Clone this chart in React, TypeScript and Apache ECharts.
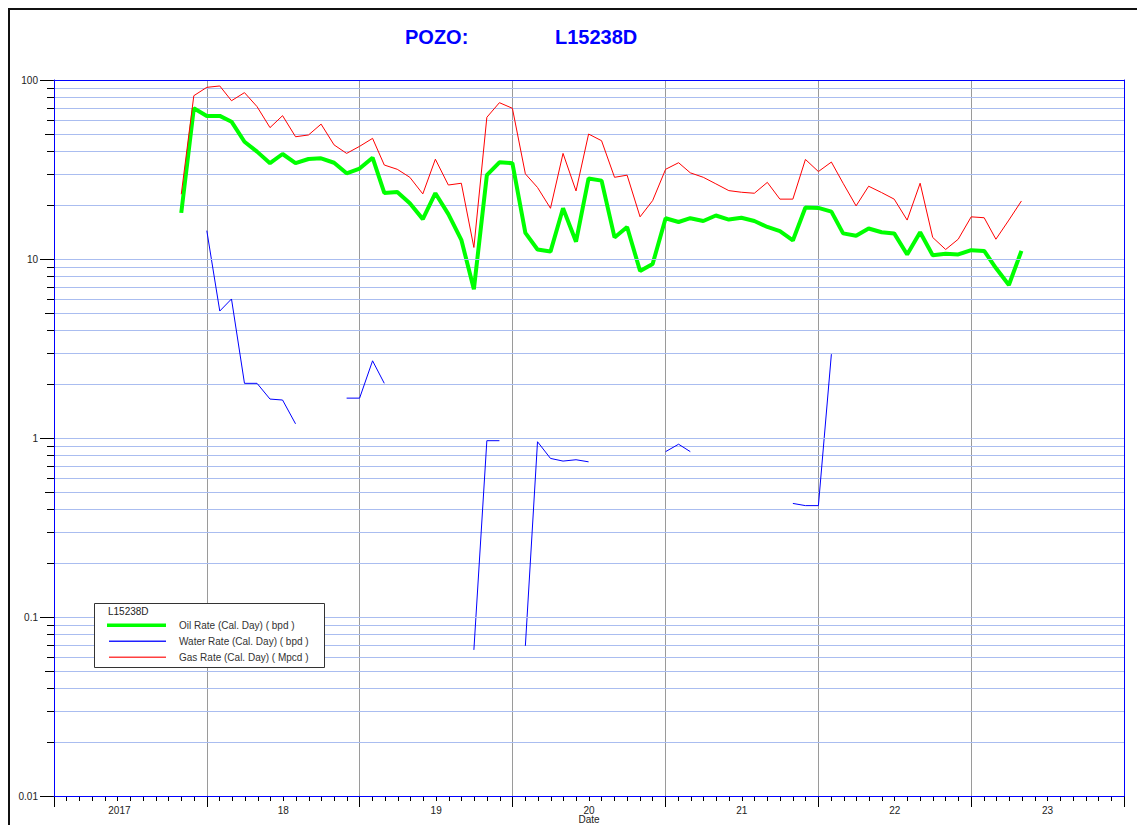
import React, { useEffect, useRef } from "react";
import * as echarts from "echarts";

// Well identifier and production history (monthly, first month 2017-11)
const WELL = "L15238D";
const FIRST_YEAR = 2017;
const FIRST_MONTH = 11;

// Oil Rate (Cal. Day) (bpd)
const OIL_RATE = [
  18.1, 69.5, 63, 63, 58.5, 45.2, 39.8, 34.3, 38.6, 34.3, 36.2, 36.5, 34.5, 30.1, 32, 36.8,
  23.4, 23.7, 20.5, 16.7, 23.3, 17.8, 12.8, 6.78, 29.4, 34.7, 34.3, 14.0, 11.3, 11.0, 19.2,
  12.5, 28.2, 27.4, 13.2, 15.1, 8.57, 9.38, 16.9, 16.1, 16.9, 16.3, 17.5, 16.6, 17.0, 16.3,
  15.1, 14.3, 12.7, 19.4, 19.3, 18.4, 13.9, 13.5, 14.8, 14.1, 13.9, 10.6, 14.1, 10.5, 10.7,
  10.6, 11.2, 11.1, 8.9, 7.16, 11.1,
];

// Water Rate (Cal. Day) (bpd) — null where no water was reported
const WATER_RATE = [
  null, null, 14.4, 5.12, 5.98, 2.02, 2.02, 1.65, 1.63, 1.2, null, null, null, 1.67, 1.67, 2.7,
  2.02, null, null, null, null, null, null, 0.0655, 0.966, 0.966, null, 0.069, 0.953, 0.769,
  0.743, 0.756, 0.736, null, null, null, null, null, 0.839, 0.923, 0.839, null, null, null,
  null, null, null, null, 0.431, 0.419, 0.419, 2.94, null, null, null, null, null, null, null,
  null, null, null, null, null, null, null, null,
];

// Gas Rate (Cal. Day) (Mpcd)
const GAS_RATE = [
  23, 81.7, 91, 92.6, 76.6, 85, 71, 54.2, 63.2, 48.2, 49.3, 56.7, 43.4, 38.9, 42.6, 47.2, 33.5,
  31.7, 28.6, 23.1, 36.1, 25.9, 26.5, 11.6, 61.9, 74.7, 69.5, 29.9, 25.1, 19.2, 38.9, 24.0,
  49.9, 45.8, 28.6, 29.4, 17.2, 21.2, 31.7, 34.5, 30.3, 28.6, 26.3, 24.1, 23.6, 23.3, 26.8,
  21.6, 21.6, 36, 30.8, 34.8, 26.5, 19.8, 25.5, 23.5, 21.6, 16.5, 26.5, 13.2, 11.3, 12.9, 17.2,
  17.0, 12.9, 16.5, 21.1,
];

// Axis labels
const YEAR_LABELS = ["2017", "18", "19", "20", "21", "22", "23"];
const X_MIN = "2017-01-01";
const X_MAX = "2024-01-01";
const Y_MIN = 0.01;
const Y_MAX = 100;
const DECADES = [0.01, 0.1, 1, 10];
const MINOR_DIGITS = [2, 3, 4, 5, 6, 7, 8, 9];

const FONT = 'Arial, "Liberation Sans", sans-serif';
const GRID_BLUE = "#aabdf0";
const AXIS_BLUE = "#0000ff";

function monthDate(i: number): string {
  const total = FIRST_MONTH - 1 + i;
  const y = FIRST_YEAR + Math.floor(total / 12);
  const m = (total % 12) + 1;
  return `${y}-${String(m).padStart(2, "0")}-01`;
}

const DATES = OIL_RATE.map((_, i) => monthDate(i));
const MONTH_SLOTS = Array.from({ length: YEAR_LABELS.length * 12 }, (_, i) => String(i));

// Intermediate log gridlines (2..9 within each decade) with their tick length
const MINOR_LINES: [string, number, number][] = [];
DECADES.forEach((d) =>
  MINOR_DIGITS.forEach((k) => MINOR_LINES.push([X_MIN, k * d, k === 5 ? 9 : 7]))
);

export default function App() {
  const ref = useRef<HTMLDivElement | null>(null);

  useEffect(() => {
    if (!ref.current) return;
    const chart = echarts.init(ref.current, null, { renderer: "svg" });

    const renderMinor = (params: any, api: any) => {
      const cs = params.coordSys;
      const y = Math.round(api.coord([X_MIN, api.value(1)])[1]) + 0.5;
      const len = api.value(2);
      return {
        type: "group",
        children: [
          {
            type: "line",
            shape: { x1: cs.x, y1: y, x2: cs.x + cs.width, y2: y },
            style: { stroke: GRID_BLUE, lineWidth: 1 },
          },
          {
            type: "line",
            shape: { x1: cs.x - len, y1: y, x2: cs.x, y2: y },
            style: { stroke: "#000", lineWidth: 1 },
          },
        ],
      };
    };

    const labelStyle = { color: "#222", fontSize: 10, fontFamily: FONT };
    const legendText = { fontSize: 10, fontFamily: FONT, fill: "#333", verticalAlign: "middle" };
    const LZ = 100;

    const option: any = {
      animation: false,
      textStyle: { fontFamily: FONT },
      title: [
        {
          text: "POZO:",
          left: 397,
          top: 19,
          padding: 0,
          textStyle: { color: AXIS_BLUE, fontSize: 20, fontWeight: "bold", fontFamily: FONT },
        },
        {
          text: WELL,
          left: 547,
          top: 19,
          padding: 0,
          textStyle: { color: AXIS_BLUE, fontSize: 20, fontWeight: "bold", fontFamily: FONT },
        },
      ],
      grid: { left: 46, top: 72, width: 1070, height: 716, outerBoundsMode: "none", containLabel: false },
      xAxis: [
        {
          type: "time",
          position: "bottom",
          min: X_MIN,
          max: X_MAX,
          z: 10,
          axisLine: { show: true, lineStyle: { color: AXIS_BLUE, width: 1 } },
          axisTick: { show: false },
          axisLabel: { show: false },
          splitLine: { show: false },
        },
        {
          type: "category",
          position: "bottom",
          data: YEAR_LABELS,
          boundaryGap: true,
          axisLine: { show: false },
          axisTick: { show: true, interval: 0, length: 11, lineStyle: { color: "#000" } },
          axisLabel: {
            ...labelStyle,
            interval: 0,
            margin: 9,
            formatter: (v: string, i: number) => (i === 0 ? `{f|${v}}` : v),
            rich: { f: { ...labelStyle, padding: [0, 22, 0, 0] } },
          },
          splitLine: {
            show: true,
            interval: 0,
            showMinLine: false,
            showMaxLine: false,
            lineStyle: { color: "#9a9a9a", width: 1 },
          },
          name: "Date",
          nameLocation: "middle",
          nameGap: 18,
          nameMoveOverlap: false,
          nameTextStyle: labelStyle,
        },
        {
          type: "category",
          position: "bottom",
          data: MONTH_SLOTS,
          boundaryGap: true,
          axisLine: { show: false },
          axisTick: { show: true, interval: 0, length: 5, lineStyle: { color: "#000" } },
          axisLabel: { show: false },
          splitLine: { show: false },
        },
        {
          type: "time",
          position: "top",
          min: X_MIN,
          max: X_MAX,
          z: 10,
          axisLine: { show: true, lineStyle: { color: AXIS_BLUE, width: 1 } },
          axisTick: { show: false },
          axisLabel: { show: false },
          splitLine: { show: false },
        },
      ],
      yAxis: [
        {
          type: "log",
          logBase: 10,
          position: "left",
          min: Y_MIN,
          max: Y_MAX,
          z: 5,
          axisLine: { show: true, lineStyle: { color: AXIS_BLUE, width: 1 } },
          axisTick: { show: true, length: 14, lineStyle: { color: "#000" } },
          axisLabel: { ...labelStyle, margin: 16 },
          splitLine: {
            show: true,
            showMinLine: false,
            showMaxLine: false,
            lineStyle: { color: GRID_BLUE, width: 1 },
          },
          minorTick: { show: false },
        },
        {
          type: "log",
          logBase: 10,
          position: "right",
          min: Y_MIN,
          max: Y_MAX,
          z: 10,
          axisLine: { show: true, lineStyle: { color: AXIS_BLUE, width: 1 } },
          axisTick: { show: false },
          axisLabel: { show: false },
          splitLine: { show: false },
        },
      ],
      series: [
        {
          type: "custom",
          name: "minor-grid",
          xAxisIndex: 0,
          yAxisIndex: 0,
          data: MINOR_LINES,
          renderItem: renderMinor,
          silent: true,
          clip: false,
          z: 1,
        },
        {
          type: "line",
          name: "Oil Rate (Cal. Day) ( bpd )",
          xAxisIndex: 0,
          yAxisIndex: 0,
          data: OIL_RATE.map((v, i) => [DATES[i], v]),
          symbol: "none",
          lineStyle: { color: "#00ff00", width: 4 },
          z: 3,
        },
        {
          type: "line",
          name: "Water Rate (Cal. Day) ( bpd )",
          xAxisIndex: 0,
          yAxisIndex: 0,
          data: WATER_RATE.map((v, i) => [DATES[i], v]),
          connectNulls: false,
          symbol: "none",
          lineStyle: { color: "#0000ff", width: 1 },
          z: 4,
        },
        {
          type: "line",
          name: "Gas Rate (Cal. Day) ( Mpcd )",
          xAxisIndex: 0,
          yAxisIndex: 0,
          data: GAS_RATE.map((v, i) => [DATES[i], v]),
          symbol: "none",
          lineStyle: { color: "#ff0000", width: 1 },
          z: 4,
        },
      ],
      graphic: [
        {
          type: "line",
          z: LZ,
          shape: { x1: 0, y1: 1, x2: 1129, y2: 1 },
          style: { stroke: "#111", lineWidth: 2 },
        },
        {
          type: "line",
          z: LZ,
          shape: { x1: 1, y1: 0, x2: 1, y2: 817 },
          style: { stroke: "#111", lineWidth: 2 },
        },
        {
          type: "group",
          x: 86,
          y: 595,
          z: LZ,
          children: [
            {
              type: "rect",
              z: LZ,
              shape: { x: 0.5, y: 0.5, width: 230, height: 64 },
              style: { fill: "#fff", stroke: "#333", lineWidth: 1 },
            },
            {
              type: "text",
              z: LZ + 1,
              x: 14,
              y: 8,
              style: { ...legendText, text: WELL, fill: "#222" },
            },
            {
              type: "rect",
              z: LZ + 1,
              shape: { x: 13, y: 20.5, width: 59, height: 3.5 },
              style: { fill: "#00ff00" },
            },
            {
              type: "text",
              z: LZ + 1,
              x: 85,
              y: 22,
              style: { ...legendText, text: "Oil Rate (Cal. Day) ( bpd )" },
            },
            {
              type: "rect",
              z: LZ + 1,
              shape: { x: 15, y: 37.5, width: 57, height: 1.5 },
              style: { fill: "#2020ff" },
            },
            {
              type: "text",
              z: LZ + 1,
              x: 85,
              y: 38,
              style: { ...legendText, text: "Water Rate (Cal. Day) ( bpd )" },
            },
            {
              type: "rect",
              z: LZ + 1,
              shape: { x: 15, y: 53.5, width: 57, height: 1.5 },
              style: { fill: "#ff4040" },
            },
            {
              type: "text",
              z: LZ + 1,
              x: 85,
              y: 54,
              style: { ...legendText, text: "Gas Rate (Cal. Day) ( Mpcd )" },
            },
          ],
        },
      ],
    };

    chart.setOption(option);
    return () => chart.dispose();
  }, []);

  return (
    <div
      ref={ref}
      style={{ position: "absolute", left: 8, top: 8, width: 1129, height: 817, background: "#fff" }}
    />
  );
}
